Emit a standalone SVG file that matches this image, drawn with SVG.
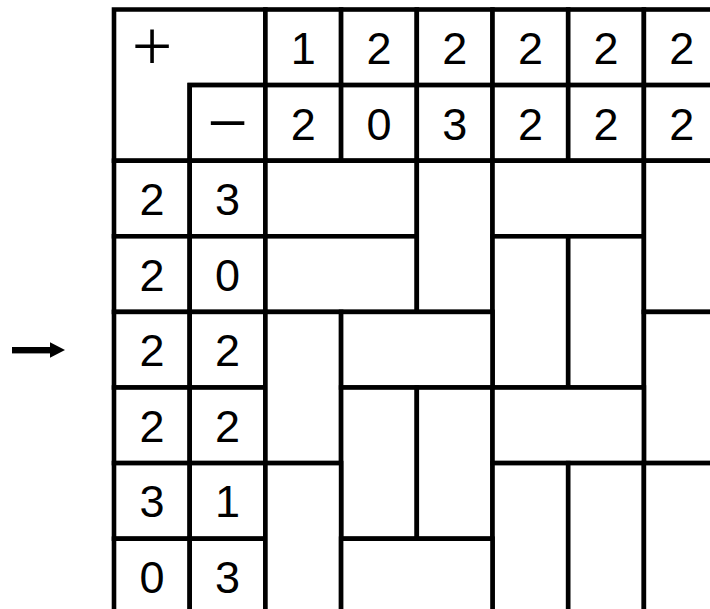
<svg xmlns="http://www.w3.org/2000/svg" width="710" height="609" viewBox="0 0 710 609">
<style>
.c{fill:#fff;stroke:#000;stroke-width:4.6;stroke-linejoin:miter}
.t{font-family:"Liberation Sans",Arial,sans-serif;font-size:45px;text-anchor:middle;fill:#000}
.s{font-family:"Liberation Serif","Times New Roman",serif;font-size:72px;text-anchor:middle;fill:#000}
</style>
<rect x="0" y="0" width="710" height="609" fill="#fff"/>
<g id="arrow">
<rect x="12" y="347" width="39" height="6.4" fill="#000"/>
<polygon points="50,342.3 65,350 50,357.7" fill="#000"/>
</g>
<g id="corner">
<path class="c" d="M114,9.5 H265.4 V85.1 H189.7 V160.7 H114 Z"/>
<text class="s" x="152" y="70.3">+</text>
</g>
<g id="minus">
<rect class="c" x="189.7" y="85.1" width="75.7" height="75.6"/>
<text class="s" x="227.6" y="146.5">−</text>
</g>
<g id="header-plus">
<rect class="c" x="265.4" y="9.5" width="75.7" height="75.6"/><text class="t" x="303.3" y="64">1</text>
<rect class="c" x="341.1" y="9.5" width="75.7" height="75.6"/><text class="t" x="379" y="64">2</text>
<rect class="c" x="416.8" y="9.5" width="75.7" height="75.6"/><text class="t" x="454.7" y="64">2</text>
<rect class="c" x="492.5" y="9.5" width="75.7" height="75.6"/><text class="t" x="530.4" y="64">2</text>
<rect class="c" x="568.2" y="9.5" width="75.7" height="75.6"/><text class="t" x="606.1" y="64">2</text>
<rect class="c" x="643.9" y="9.5" width="75.7" height="75.6"/><text class="t" x="681.8" y="64">2</text>
</g>
<g id="header-minus">
<rect class="c" x="265.4" y="85.1" width="75.7" height="75.6"/><text class="t" x="303.3" y="139.6">2</text>
<rect class="c" x="341.1" y="85.1" width="75.7" height="75.6"/><text class="t" x="379" y="139.6">0</text>
<rect class="c" x="416.8" y="85.1" width="75.7" height="75.6"/><text class="t" x="454.7" y="139.6">3</text>
<rect class="c" x="492.5" y="85.1" width="75.7" height="75.6"/><text class="t" x="530.4" y="139.6">2</text>
<rect class="c" x="568.2" y="85.1" width="75.7" height="75.6"/><text class="t" x="606.1" y="139.6">2</text>
<rect class="c" x="643.9" y="85.1" width="75.7" height="75.6"/><text class="t" x="681.8" y="139.6">2</text>
</g>
<g id="row-labels">
<rect class="c" x="114" y="160.7" width="75.7" height="75.6"/><text class="t" x="151.9" y="215">2</text>
<rect class="c" x="189.7" y="160.7" width="75.7" height="75.6"/><text class="t" x="227.6" y="215">3</text>
<rect class="c" x="114" y="236.3" width="75.7" height="75.6"/><text class="t" x="151.9" y="290.6">2</text>
<rect class="c" x="189.7" y="236.3" width="75.7" height="75.6"/><text class="t" x="227.6" y="290.6">0</text>
<rect class="c" x="114" y="311.9" width="75.7" height="75.6"/><text class="t" x="151.9" y="366.2">2</text>
<rect class="c" x="189.7" y="311.9" width="75.7" height="75.6"/><text class="t" x="227.6" y="366.2">2</text>
<rect class="c" x="114" y="387.5" width="75.7" height="75.6"/><text class="t" x="151.9" y="441.8">2</text>
<rect class="c" x="189.7" y="387.5" width="75.7" height="75.6"/><text class="t" x="227.6" y="441.8">2</text>
<rect class="c" x="114" y="463.1" width="75.7" height="75.6"/><text class="t" x="151.9" y="517.4">3</text>
<rect class="c" x="189.7" y="463.1" width="75.7" height="75.6"/><text class="t" x="227.6" y="517.4">1</text>
<rect class="c" x="114" y="538.7" width="75.7" height="75.6"/><text class="t" x="151.9" y="593">0</text>
<rect class="c" x="189.7" y="538.7" width="75.7" height="75.6"/><text class="t" x="227.6" y="593">3</text>
</g>
<g id="dominoes">
<rect id="d1" class="c" x="265.4" y="160.7" width="151.4" height="75.6"/>
<rect id="d2" class="c" x="265.4" y="236.3" width="151.4" height="75.6"/>
<rect id="d3" class="c" x="416.8" y="160.7" width="75.7" height="151.2"/>
<rect id="d4" class="c" x="492.5" y="160.7" width="151.4" height="75.6"/>
<rect id="d5" class="c" x="492.5" y="236.3" width="75.7" height="151.2"/>
<rect id="d6" class="c" x="568.2" y="236.3" width="75.7" height="151.2"/>
<rect id="d7" class="c" x="643.9" y="160.7" width="75.7" height="151.2"/>
<rect id="d8" class="c" x="265.4" y="311.9" width="75.7" height="151.2"/>
<rect id="d9" class="c" x="341.1" y="311.9" width="151.4" height="75.6"/>
<rect id="d10" class="c" x="643.9" y="311.9" width="75.7" height="151.2"/>
<rect id="d11" class="c" x="341.1" y="387.5" width="75.7" height="151.2"/>
<rect id="d12" class="c" x="416.8" y="387.5" width="75.7" height="151.2"/>
<rect id="d13" class="c" x="492.5" y="387.5" width="151.4" height="75.6"/>
<rect id="d14" class="c" x="265.4" y="463.1" width="75.7" height="151.2"/>
<rect id="d15" class="c" x="492.5" y="463.1" width="75.7" height="151.2"/>
<rect id="d16" class="c" x="568.2" y="463.1" width="75.7" height="151.2"/>
<rect id="d17" class="c" x="643.9" y="463.1" width="75.7" height="151.2"/>
<rect id="d18" class="c" x="341.1" y="538.7" width="151.4" height="75.6"/>
</g>
</svg>
